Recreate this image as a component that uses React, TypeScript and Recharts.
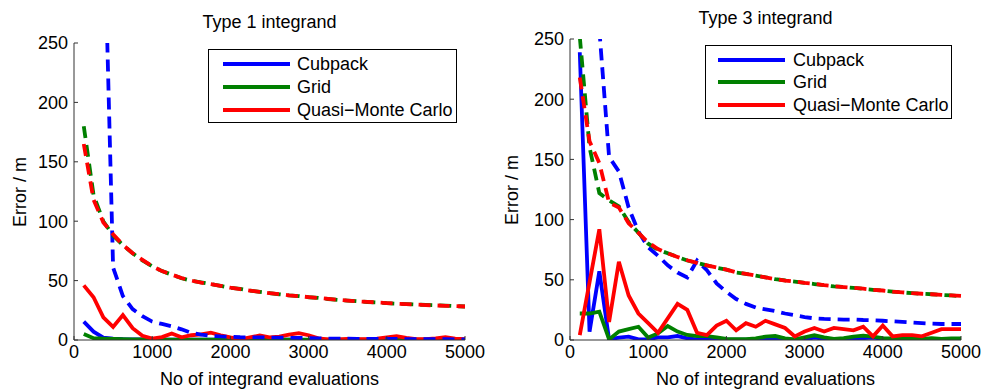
import { LineChart, Line, XAxis, YAxis } from 'recharts';

// number of integrand evaluations (x positions shared by every series)
const evaluations = [
  125, 250, 375, 500, 625, 750, 875, 1000, 1125, 1250,
  1375, 1500, 1625, 1750, 1875, 2000, 2125, 2250, 2375, 2500,
  2625, 2750, 2875, 3000, 3125, 3250, 3375, 3500, 3625, 3750,
  3875, 4000, 4125, 4250, 4375, 4500, 4625, 4750, 4875, 5000,
];

const xTicks = [0, 1000, 2000, 3000, 4000, 5000];
const yTicks = [0, 50, 100, 150, 200, 250];

// Type 1 integrand: actual errors (solid)
const t1CubpackErr = [
  15.5, 7, 2, 1.2, 0.8, 0.6, 0.5, 0.4, 0.4, 0.3,
  0.3, 0.3, 0.3, 0.2, 0.2, 0.2, 0.2, 0.2, 0.2, 0.2,
  0.2, 0.2, 0.1, 0.1, 0.1, 0.1, 0.1, 0.1, 0.1, 0.1,
  0.1, 0.1, 0.1, 0.1, 0.1, 0.1, 0.1, 0.1, 0.1, 0.1,
];
const t1GridErr = [
  5, 1.5, 1.2, 0.9, 0.7, 0.6, 0.5, 0.5, 0.4, 0.4,
  0.4, 0.3, 0.3, 0.3, 0.3, 0.3, 0.3, 0.2, 0.2, 0.2,
  0.2, 0.2, 0.2, 0.2, 0.2, 0.2, 0.2, 0.2, 0.2, 0.2,
  0.2, 0.2, 0.2, 0.2, 0.2, 0.2, 0.1, 0.1, 0.1, 0.1,
];
const t1QmcErr = [
  46, 36, 19, 11, 21, 10, 3.5, 1.2, 2.5, 5.5,
  2.3, 4, 4.8, 6.2, 4, 2.2, 0.6, 2.2, 3.8, 2.2,
  2.8, 4.5, 5.8, 4, 1.4, 0.6, 0.6, 1, 0.7, 0.8,
  1.2, 2.2, 3.2, 1.8, 0.8, 0.7, 1.4, 2.4, 1.2, 0.8,
];
// Type 1 integrand: error estimates (dashed)
const t1CubpackEst = [
  null, null, 380, 61, 37, 26, 20, 15.5, 13.5, 11.5,
  9, 6, 4.5, 3.5, 3, 2.7, 2.3, 2.2, 2.2, 2,
  2, 1.8, 1.7, 1.6, 1.4, 1.2, 1.1, 1.1, 1, 1,
  1, 0.9, 0.9, 0.8, 0.8, 0.7, 0.7, 0.7, 0.6, 0.6,
];
const t1GridEst = [
  180, 122, 100, 88, 80, 73, 67, 62, 58, 55,
  52, 50, 48.5, 47, 45.5, 44, 43, 41.5, 40.5, 39.5,
  38.5, 37.5, 37, 36, 35.5, 34.5, 33.8, 33.2, 32.6, 32,
  31.6, 31, 30.6, 30.2, 29.8, 29.5, 29.2, 28.9, 28.5, 28.2,
];
const t1QmcEst = [
  165, 118, 99, 89, 80, 73, 67.5, 62, 58, 55,
  52.2, 50, 48.3, 47, 45.6, 44, 42.8, 41.6, 40.5, 39.4,
  38.6, 37.6, 36.9, 36.1, 35.4, 34.6, 33.9, 33.2, 32.6, 32.1,
  31.6, 31.1, 30.6, 30.2, 29.8, 29.4, 29.1, 28.8, 28.5, 28.2,
];

// Type 3 integrand: actual errors (solid)
const t3CubpackErr = [
  239, 7, 57, 0.5, 2, 2.8, 0.5, 0.5, 2.2, 2.2,
  3.3, 1.4, 0.5, 0.3, 0.3, 0.2, 0.2, 0.2, 0.2, 0.2,
  0.3, 0.3, 0.2, 0.5, 2, 1, 0.5, 0.3, 0.3, 1.5,
  2, 1, 0.5, 0.3, 0.3, 0.8, 0.5, 0.3, 0.3, 0.3,
];
const t3GridErr = [
  22, 22, 23.5, 0.5, 7, 9, 11, 2, 5.5, 11.6,
  7, 4.2, 3.3, 3.3, 2.2, 1, 0.8, 0.8, 1.4, 2.8,
  3.3, 1.4, 0.5, 2.2, 3.9, 2.2, 1, 1.6, 2.8, 3.6,
  2.8, 1.6, 1.4, 1.6, 1.8, 1, 1.6, 1, 1.4, 1.4,
];
const t3QmcErr = [
  4, 48, 92, 15, 65, 37, 22, 14, 6, 18,
  30, 25, 6, 4, 12, 16, 8, 14, 11, 16,
  13, 10, 3, 7, 10, 7, 10, 9, 8, 11,
  3, 12, 3, 4, 4, 3, 6, 9, 9, 9,
];
// Type 3 integrand: error estimates (dashed)
const t3CubpackEst = [
  null, null, 258, 152, 140, 110, 90, 77, 70, 62,
  56, 52, 66, 58, 47, 40, 34, 30, 27, 25.5,
  24, 22, 20.5, 19, 18, 17.5, 17.2, 17, 17, 16.6,
  16.4, 16, 15.5, 15, 14.5, 14, 13.6, 13.3, 13.3, 13.3,
];
const t3GridEst = [
  252, 160, 122, 116, 111, 98, 89, 80, 75, 72,
  69, 66, 64, 62, 60, 58.5, 56, 55, 53.5, 52,
  50.5, 49.5, 48.5, 47.5, 46.5, 45.5, 44.5, 44, 43.3, 42.5,
  41.7, 41, 40.2, 39.5, 38.9, 38.4, 38, 37.5, 37, 36.5,
];
const t3QmcEst = [
  218, 165, 147, 114, 110, 97, 89, 81, 75.5, 72,
  69, 66.2, 64, 62, 60.2, 58.5, 56.2, 55, 53.6, 52,
  50.6, 49.4, 48.6, 47.4, 46.6, 45.5, 44.6, 43.9, 43.3, 42.6,
  41.7, 41.1, 40.2, 39.6, 38.9, 38.4, 38, 37.5, 37, 36.6,
];

const methods = ['Cubpack', 'Grid', 'Quasi\u2212Monte Carlo'];
const colors = ['#0000ff', '#008000', '#ff0000'];

const FONT = '"Liberation Sans", Arial, Helvetica, sans-serif';
const FS = 18;
const AXIS = '#333';

type Series = (number | null)[];

function buildRows(err: Series[], est: Series[]) {
  return evaluations.map((n, i) => ({
    n,
    e0: err[0][i], e1: err[1][i], e2: err[2][i],
    d0: est[0][i], d1: est[1][i], d2: est[2][i],
  }));
}

const type1Rows = buildRows([t1CubpackErr, t1GridErr, t1QmcErr], [t1CubpackEst, t1GridEst, t1QmcEst]);
const type3Rows = buildRows([t3CubpackErr, t3GridErr, t3QmcErr], [t3CubpackEst, t3GridEst, t3QmcEst]);

interface PanelProps {
  rows: ReturnType<typeof buildRows>;
  title: string;
  left: number;      // chart container left
  width: number;
  yAxisWidth: number;
  top: number;       // plot top
  right: number;     // margin right
  legendBox: { x: number; y: number; w: number; h: number; lineX: number; lineW: number; textX: number; rowY: number[] };
}

function Panel({ rows, title, left, width, yAxisWidth, top, right, legendBox }: PanelProps) {
  const plotLeft = left + yAxisWidth;
  const plotRight = left + width - right;
  const cx = (plotLeft + plotRight) / 2;
  const cy = (top + 340) / 2;
  return (
    <>
      <div style={{ position: 'absolute', left, top: 0 }}>
        <LineChart
          width={width}
          height={391}
          data={rows}
          margin={{ top, right, bottom: 0, left: 0 }}
        >
          <XAxis
            dataKey="n"
            type="number"
            domain={[0, 5000]}
            ticks={xTicks}
            interval={0}
            height={51}
            tickSize={-4}
            tickMargin={9}
            stroke={AXIS}
            tick={{ fill: '#000', fontSize: FS, fontFamily: FONT }}
          />
          <YAxis
            type="number"
            domain={[0, 250]}
            ticks={yTicks}
            interval={0}
            allowDataOverflow
            width={yAxisWidth}
            tickSize={-4}
            tickMargin={10}
            stroke={AXIS}
            tick={{ fill: '#000', fontSize: FS, fontFamily: FONT }}
          />
          {/* actual errors first, estimates drawn on top */}
          {[0, 1, 2].map(k => (
            <Line
              key={'e' + k}
              type="linear"
              dataKey={'e' + k}
              stroke={colors[k]}
              strokeWidth={3.8}
              dot={false}
              activeDot={false}
              isAnimationActive={false}
            />
          ))}
          {[0, 1, 2].map(k => (
            <Line
              key={'d' + k}
              type="linear"
              dataKey={'d' + k}
              stroke={colors[k]}
              strokeWidth={3.8}
              strokeDasharray="12 7"
              dot={false}
              activeDot={false}
              isAnimationActive={false}
            />
          ))}
        </LineChart>
      </div>

      <div style={{ position: 'absolute', left: cx - 200, width: 400, top: top - 31, lineHeight: '20px', textAlign: 'center', fontFamily: FONT, fontSize: FS }}>
        {title}
      </div>
      <div style={{ position: 'absolute', left: cx - 200, width: 400, top: 369, lineHeight: '20px', textAlign: 'center', fontFamily: FONT, fontSize: FS }}>
        No of integrand evaluations
      </div>
      <div style={{ position: 'absolute', left: left + 20 - 100, width: 200, top: cy - 10, lineHeight: '20px', textAlign: 'center', fontFamily: FONT, fontSize: FS, transform: 'rotate(-90deg)' }}>
        Error / m
      </div>

      <div style={{ position: 'absolute', left: legendBox.x, top: legendBox.y, width: legendBox.w, height: legendBox.h, border: '1px solid #000', background: '#fff', boxSizing: 'border-box' }}>
        {methods.map((m, k) => (
          <div key={m}>
            <div style={{ position: 'absolute', left: legendBox.lineX, top: legendBox.rowY[k] - 2, width: legendBox.lineW, height: 4, background: colors[k] }} />
            <div style={{ position: 'absolute', left: legendBox.textX, top: legendBox.rowY[k] - 10, lineHeight: '20px', fontFamily: FONT, fontSize: FS, whiteSpace: 'nowrap' }}>
              {m}
            </div>
          </div>
        ))}
      </div>
    </>
  );
}

export default function App() {
  return (
    <div style={{ position: 'absolute', left: 0, top: 0, width: 984, height: 391, background: '#fff', overflow: 'hidden' }}>
      <Panel
        rows={type1Rows}
        title="Type 1 integrand"
        left={0}
        width={490}
        yAxisWidth={74}
        top={43}
        right={25}
        legendBox={{ x: 208, y: 49, w: 249, h: 74, lineX: 14, lineW: 67, textX: 88, rowY: [14, 37, 60] }}
      />
      <Panel
        rows={type3Rows}
        title="Type 3 integrand"
        left={492}
        width={492}
        yAxisWidth={78}
        top={39}
        right={23}
        legendBox={{ x: 705, y: 45, w: 247, h: 74, lineX: 12, lineW: 67, textX: 87, rowY: [14, 36, 59] }}
      />
    </div>
  );
}
